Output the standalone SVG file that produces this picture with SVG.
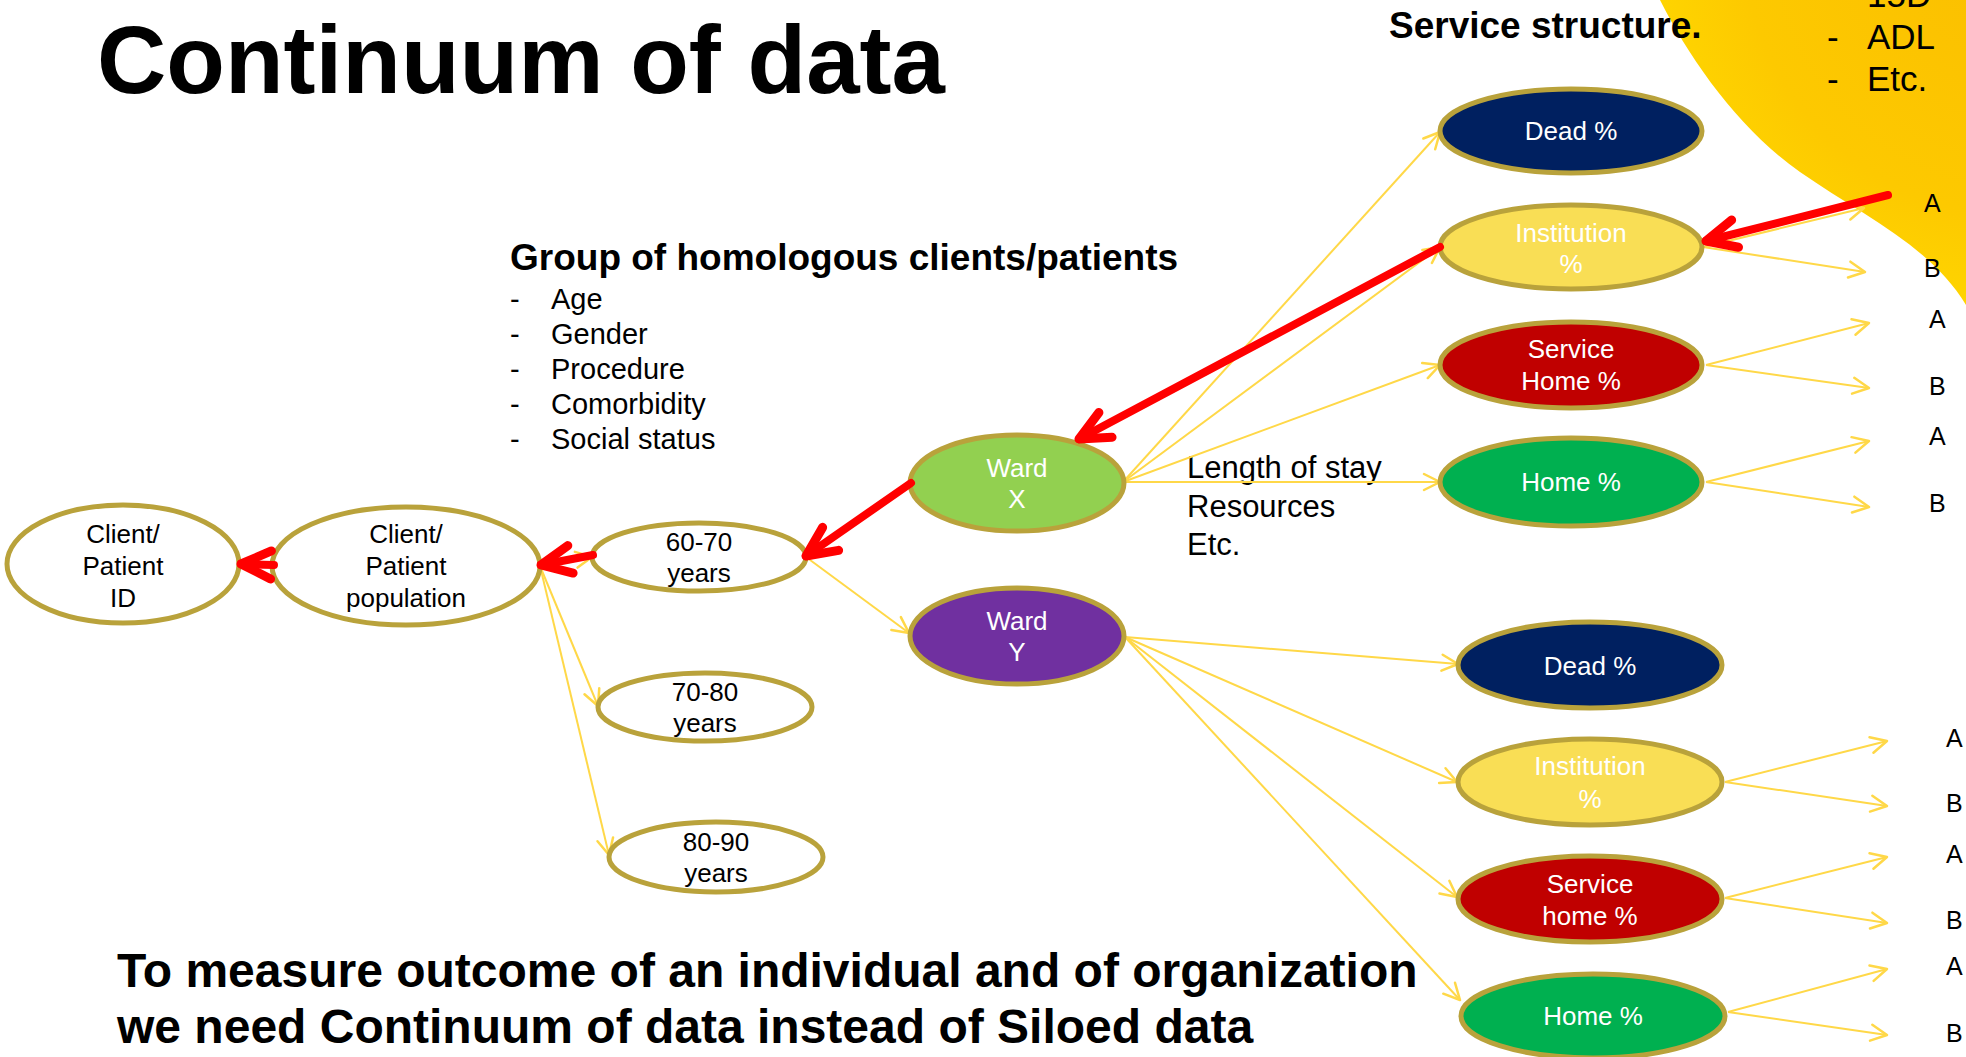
<svg xmlns="http://www.w3.org/2000/svg" width="1966" height="1057" viewBox="0 0 1966 1057">
<defs>
<radialGradient id="sun" cx="2020" cy="-60" r="460" gradientUnits="userSpaceOnUse">
<stop offset="0" stop-color="#FBBE00"/>
<stop offset="0.6" stop-color="#FDC900"/>
<stop offset="0.9" stop-color="#FFDA00"/>
<stop offset="1" stop-color="#FFE31A"/>
</radialGradient>
<marker id="ya" viewBox="0 0 20 20" refX="18" refY="10" markerWidth="20" markerHeight="20" orient="auto" markerUnits="userSpaceOnUse" overflow="visible">
<path d="M2,2 L18,10 L2,18" fill="none" stroke="#FFD848" stroke-width="2.5" stroke-linecap="round" stroke-linejoin="round"/>
</marker>
<marker id="ra" viewBox="0 0 40 40" refX="36" refY="20" markerWidth="40" markerHeight="40" orient="auto" markerUnits="userSpaceOnUse" overflow="visible">
<path d="M6,6 L36,20 L6,34" fill="none" stroke="#FF0000" stroke-width="9" stroke-linecap="round" stroke-linejoin="round"/>
</marker>
</defs>
<style>
text{font-family:"Liberation Sans",Arial,sans-serif;}
.node ellipse{stroke:#B9A23B;stroke-width:5;}
.nt{font-size:26px;text-anchor:middle;fill:#000;}
.wt{font-size:26px;text-anchor:middle;fill:#fff;}
.y{fill:none;stroke:#FFD848;stroke-width:2;marker-end:url(#ya);}
.r{fill:none;stroke:#FF0000;stroke-width:8;stroke-linecap:round;marker-end:url(#ra);}
.ab{font-size:25px;fill:#000;}
.lst{font-size:29px;fill:#000;}
</style>
<rect width="1966" height="1057" fill="#fff"/>
<path d="M1660,0 C1690,60 1740,130 1800,172 C1860,214 1930,245 1966,305 L1966,0 Z" fill="url(#sun)"/>

<text x="97" y="93" font-size="96" font-weight="bold">Continuum of data</text>
<text x="1389" y="38" font-size="37" font-weight="bold">Service structure.</text>
<g font-size="35">
<text x="1827" y="7">-</text><text x="1867" y="7">15D</text>
<text x="1827" y="49">-</text><text x="1867" y="49">ADL</text>
<text x="1827" y="91">-</text><text x="1867" y="91">Etc.</text>
</g>
<text x="510" y="270" font-size="37" font-weight="bold">Group of homologous clients/patients</text>
<g class="lst">
<text x="510" y="309">-</text><text x="551" y="309">Age</text>
<text x="510" y="344">-</text><text x="551" y="344">Gender</text>
<text x="510" y="379">-</text><text x="551" y="379">Procedure</text>
<text x="510" y="414">-</text><text x="551" y="414">Comorbidity</text>
<text x="510" y="449">-</text><text x="551" y="449">Social status</text>
</g>
<g font-size="31">
<text x="1187" y="478">Length of stay</text>
<text x="1187" y="517">Resources</text>
<text x="1187" y="555">Etc.</text>
</g>
<g font-size="48" font-weight="bold">
<text x="117" y="987">To measure outcome of an individual and of organization</text>
<text x="117" y="1043">we need Continuum of data instead of Siloed data</text>
</g>

<g id="connectors">
<path class="y" d="M540,566 L592,557"/>
<path class="y" d="M540,566 L598,706"/>
<path class="y" d="M540,566 L609,855"/>
<path class="y" d="M806,557 L909,633"/>
<path class="y" d="M1123,482 L1440,132"/>
<path class="y" d="M1123,482 L1440,247"/>
<path class="y" d="M1123,482 L1440,365"/>
<path class="y" d="M1123,482 L1440,482"/>
<path class="y" d="M1125,637 L1458,664"/>
<path class="y" d="M1125,637 L1457,782"/>
<path class="y" d="M1125,637 L1457,897"/>
<path class="y" d="M1125,637 L1460,1000"/>
<path class="y" d="M1703,247 L1864,208"/>
<path class="y" d="M1703,247 L1865,272"/>
<path class="y" d="M1706,365 L1869,323"/>
<path class="y" d="M1706,365 L1869,388"/>
<path class="y" d="M1706,482 L1869,441"/>
<path class="y" d="M1706,482 L1869,507"/>
<path class="y" d="M1725,782 L1887,741"/>
<path class="y" d="M1725,782 L1887,806"/>
<path class="y" d="M1725,898 L1887,857"/>
<path class="y" d="M1725,898 L1887,923"/>
<path class="y" d="M1728,1012 L1887,969"/>
<path class="y" d="M1728,1012 L1887,1035"/>
</g>

<g id="n-client-id" class="node"><ellipse cx="123" cy="564" rx="116" ry="59" fill="#fff"/><text class="nt" x="123" y="543">Client/</text><text class="nt" x="123" y="575">Patient</text><text class="nt" x="123" y="607">ID</text></g>
<g id="n-population" class="node"><ellipse cx="406" cy="566" rx="134" ry="59" fill="#fff"/><text class="nt" x="406" y="543">Client/</text><text class="nt" x="406" y="575">Patient</text><text class="nt" x="406" y="607">population</text></g>
<g id="n-60-70" class="node"><ellipse cx="699" cy="557" rx="107" ry="34" fill="#fff"/><text class="nt" x="699" y="551">60-70</text><text class="nt" x="699" y="582">years</text></g>
<g id="n-70-80" class="node"><ellipse cx="705" cy="707" rx="107" ry="34" fill="#fff"/><text class="nt" x="705" y="701">70-80</text><text class="nt" x="705" y="732">years</text></g>
<g id="n-80-90" class="node"><ellipse cx="716" cy="857" rx="107" ry="35" fill="#fff"/><text class="nt" x="716" y="851">80-90</text><text class="nt" x="716" y="882">years</text></g>
<g id="n-ward-x" class="node"><ellipse cx="1017" cy="483" rx="107" ry="48" fill="#92D050"/><text class="wt" x="1017" y="477">Ward</text><text class="wt" x="1017" y="508">X</text></g>
<g id="n-ward-y" class="node"><ellipse cx="1017" cy="636" rx="107" ry="48" fill="#7030A0"/><text class="wt" x="1017" y="630">Ward</text><text class="wt" x="1017" y="661">Y</text></g>

<g id="n-dead-x" class="node"><ellipse cx="1571" cy="131" rx="131" ry="42" fill="#002060"/><text class="wt" x="1571" y="140">Dead %</text></g>
<g id="n-inst-x" class="node"><ellipse cx="1571" cy="247" rx="131" ry="42" fill="#F9DE55"/><text class="wt" x="1571" y="242">Institution</text><text class="wt" x="1571" y="273">%</text></g>
<g id="n-shome-x" class="node"><ellipse cx="1571" cy="365" rx="131" ry="43" fill="#C00000"/><text class="wt" x="1571" y="358">Service</text><text class="wt" x="1571" y="390">Home %</text></g>
<g id="n-home-x" class="node"><ellipse cx="1571" cy="482" rx="131" ry="44" fill="#00B050"/><text class="wt" x="1571" y="491">Home %</text></g>

<g id="n-dead-y" class="node"><ellipse cx="1590" cy="665" rx="132" ry="43" fill="#002060"/><text class="wt" x="1590" y="675">Dead %</text></g>
<g id="n-inst-y" class="node"><ellipse cx="1590" cy="782" rx="132" ry="43" fill="#F9DE55"/><text class="wt" x="1590" y="775">Institution</text><text class="wt" x="1590" y="808">%</text></g>
<g id="n-shome-y" class="node"><ellipse cx="1590" cy="899" rx="132" ry="43" fill="#C00000"/><text class="wt" x="1590" y="893">Service</text><text class="wt" x="1590" y="925">home %</text></g>
<g id="n-home-y" class="node"><ellipse cx="1593" cy="1016" rx="132" ry="42" fill="#00B050"/><text class="wt" x="1593" y="1025">Home %</text></g>

<g id="labels-ab" class="ab">
<text x="1924" y="212">A</text><text x="1924" y="277">B</text>
<text x="1929" y="328">A</text><text x="1929" y="395">B</text>
<text x="1929" y="445">A</text><text x="1929" y="512">B</text>
<text x="1946" y="747">A</text><text x="1946" y="812">B</text>
<text x="1946" y="863">A</text><text x="1946" y="929">B</text>
<text x="1946" y="975">A</text><text x="1946" y="1042">B</text>
</g>

<g id="red-arrows">
<path class="r" d="M1888,195 L1706,241"/>
<path class="r" d="M1440,247 L1079,439"/>
<path class="r" d="M911,483 L806,556"/>
<path class="r" d="M593,555 L541,565"/>
<path class="r" d="M274,565 L241,564"/>
</g>
</svg>
